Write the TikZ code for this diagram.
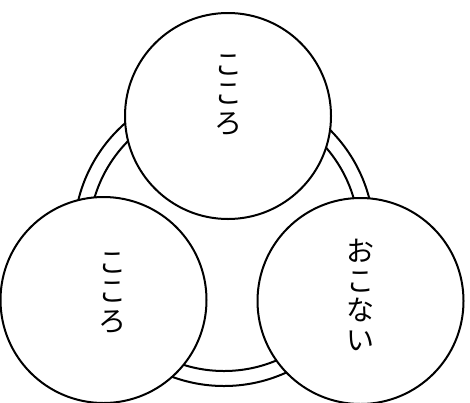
\documentclass[tikz,border=0pt]{standalone}
\usepackage{fontspec}
\newfontfamily\jp{Noto Sans CJK JP}
\begin{document}
\begin{tikzpicture}[x=1pt,y=-1pt,
  ringline/.style={circle,draw,line width=2pt,inner sep=0pt},
  bigcirc/.style={circle,draw,fill=white,line width=2pt,inner sep=0pt,minimum size=206pt},
  vtext/.style={font=\jp\fontsize{28}{29.5}\selectfont,align=center,inner sep=0pt}]
\useasboundingbox (0,0) rectangle (470,402);
\node[ringline,minimum size=300pt] (outer) at (224,236) {};
\node[ringline,minimum size=270pt] (inner) at (224,236) {};
\node[bigcirc] (topc) at (228,116) {};
\node[bigcirc] (leftc) at (103.5,300) {};
\node[bigcirc] (rightc) at (360.5,301) {};
\node[vtext] (toptext) at (228,95) {こ\\こ\\ろ};
\node[vtext] (lefttext) at (112,293) {こ\\こ\\ろ};
\node[vtext] (righttext) at (360,295) {お\\こ\\な\\い};
\end{tikzpicture}
\end{document}
